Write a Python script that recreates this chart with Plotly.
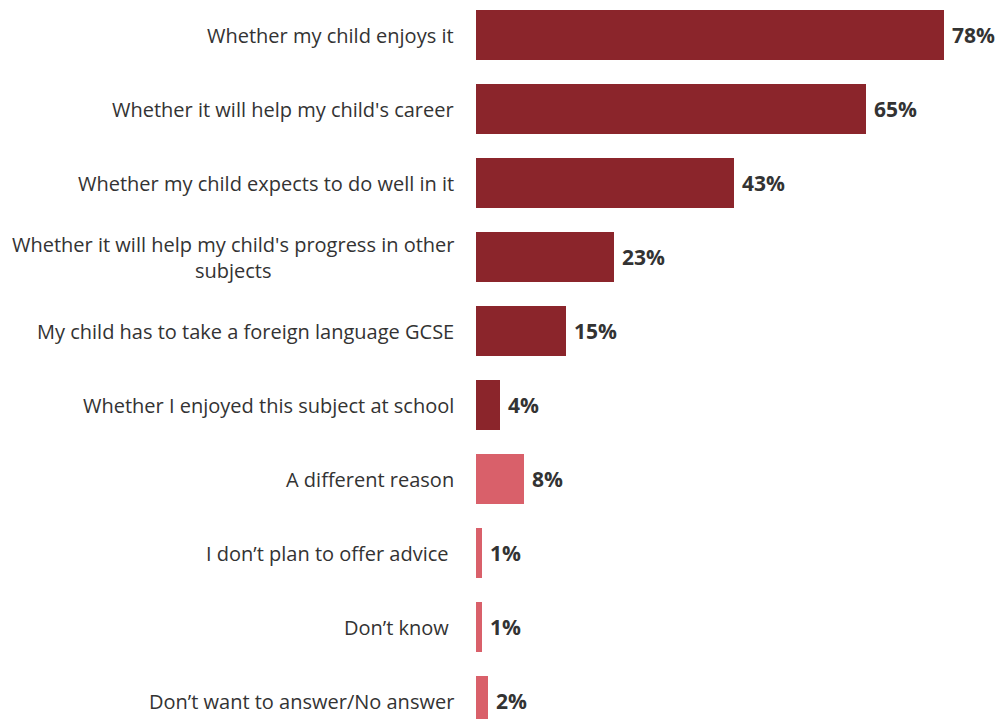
import plotly.graph_objects as go

# Survey responses: reasons for advice on subject choice
categories = [
    "Whether my child enjoys it",
    "Whether it will help my child's career",
    "Whether my child expects to do well in it",
    "Whether it will help my child's progress in other<br>subjects",
    "My child has to take a foreign language GCSE",
    "Whether I enjoyed this subject at school",
    "A different reason",
    "I don’t plan to offer advice ",
    "Don’t know ",
    "Don’t want to answer/No answer",
]
values = [78, 65, 43, 23, 15, 4, 8, 1, 1, 2]
groups = ["main"] * 6 + ["other"] * 4

DARK = "#8B252B"
LIGHT = "#D9606A"
TEXT = "#333333"
FONT = "Open Sans"

W, H = 997, 719
LEFT = 476          # pixel where the value axis starts
PX_PER_UNIT = 6.0   # horizontal scale
ROW = 74            # pixels per category row
TOP_OFFSET = 2      # first row starts slightly above the page top

idx = list(range(len(categories)))
colors = [DARK if g == "main" else LIGHT for g in groups]

fig = go.Figure(
    go.Bar(
        x=values,
        y=idx,
        orientation="h",
        marker=dict(color=colors, line=dict(width=0)),
        width=50 / ROW,
        hoverinfo="skip",
    )
)

# category labels, right-aligned against the bars
for i, cat in enumerate(categories):
    fig.add_annotation(
        x=0, y=i, xref="x", yref="y",
        text=cat, showarrow=False,
        xanchor="right", yanchor="middle", align="center",
        xshift=-20,
        font=dict(family=FONT, size=20, color=TEXT),
    )

# value labels at the end of each bar
for i, v in enumerate(values):
    fig.add_annotation(
        x=v, y=i, xref="x", yref="y",
        text=f"<b>{v}%</b>", showarrow=False,
        xanchor="left", yanchor="middle",
        xshift=6,
        font=dict(family=FONT, size=21, color=TEXT),
    )

y_top = -0.5 + TOP_OFFSET / ROW
y_bottom = y_top + H / ROW

fig.update_layout(
    width=W, height=H,
    margin=dict(l=LEFT, r=0, t=0, b=0),
    paper_bgcolor="white", plot_bgcolor="white",
    showlegend=False,
    xaxis=dict(range=[0, (W - LEFT) / PX_PER_UNIT], visible=False, fixedrange=True),
    yaxis=dict(range=[y_bottom, y_top], visible=False, fixedrange=True),
)

fig.write_html("out.html")
